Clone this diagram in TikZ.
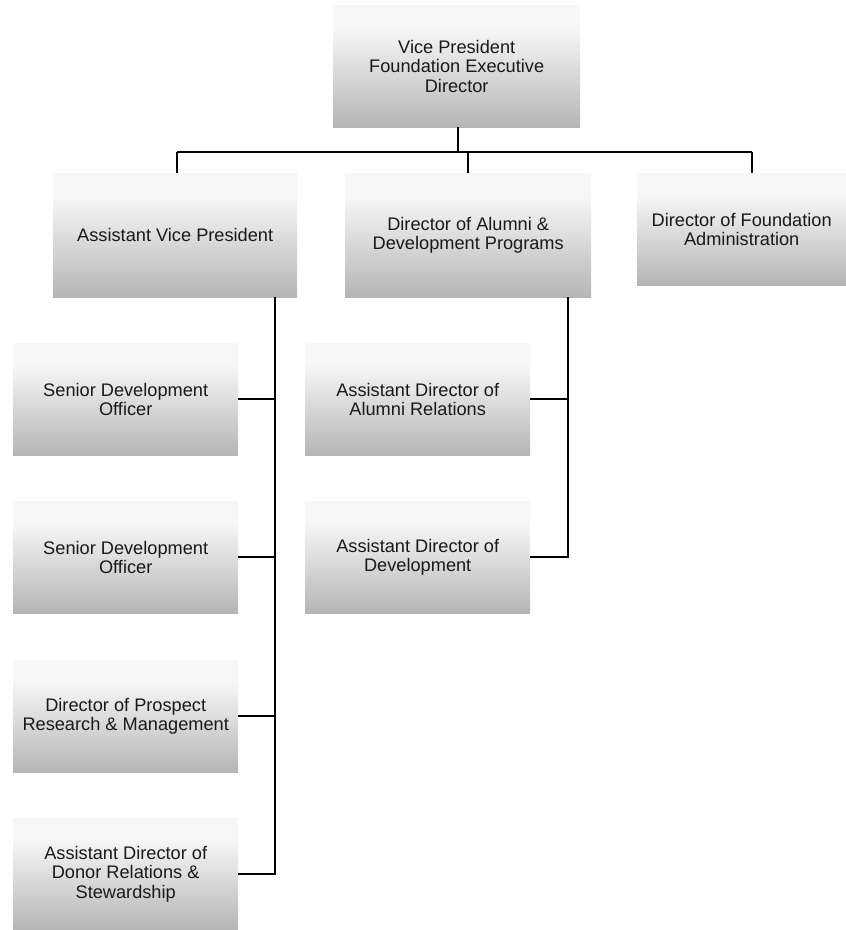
\documentclass[tikz,border=0pt]{standalone}
\usepackage{fontspec}
\setmainfont{Liberation Sans}
\pgfdeclareverticalshading{boxshade}{100bp}{color(0bp)=(black!29); color(25bp)=(black!29); color(66bp)=(black!3); color(100bp)=(black!3)}
\tikzset{
  orgbox/.style={rectangle, shading=boxshade, draw=none, anchor=north west, align=center,
    inner sep=0pt, text=black!90, font=\fontsize{18.2}{19.3}\selectfont},
  link/.style={draw=black, line width=1.5pt}
}
\begin{document}
\begin{tikzpicture}[x=1pt,y=-1pt]
\useasboundingbox (0,0) rectangle (846,930);
\node[orgbox, minimum width=247pt, minimum height=122pt] (vp) at (333,5) {Vice President\\Foundation Executive\\Director};
\node[orgbox, minimum width=244pt, minimum height=124pt] (avp) at (53,173) {Assistant Vice President};
\node[orgbox, minimum width=246pt, minimum height=124pt] (dad) at (345,173) {Director of Alumni \&\\Development Programs};
\node[orgbox, minimum width=209pt, minimum height=112pt] (dfa) at (637,173) {Director of Foundation\\Administration};
\node[orgbox, minimum width=225pt, minimum height=112pt] (s1) at (13,343) {Senior Development\\Officer};
\node[orgbox, minimum width=225pt, minimum height=112pt] (s2) at (13,501) {Senior Development\\Officer};
\node[orgbox, minimum width=225pt, minimum height=112pt] (dp) at (13,660) {Director of Prospect\\Research \& Management};
\node[orgbox, minimum width=225pt, minimum height=112pt] (ad) at (13,818) {Assistant Director of\\Donor Relations \&\\Stewardship};
\node[orgbox, minimum width=225pt, minimum height=112pt] (aar) at (305,343) {Assistant Director of\\Alumni Relations};
\node[orgbox, minimum width=225pt, minimum height=112pt] (adev) at (305,501) {Assistant Director of\\Development};
% top bus
\coordinate (busL) at (177,152);
\coordinate (busR) at (752,152);
\coordinate (busM) at (458,152);
\coordinate (busD) at (468,152);
\draw[link] (busL) -- (busR);
\draw[link] (vp.south -| busM) -- (busM);
\draw[link] (busL) -- (busL |- avp.north);
\draw[link] (busD) -- (busD |- dad.north);
\draw[link] (busR) -- (busR |- dfa.north);
% left spine
\coordinate (spL) at (275,0);
\draw[link] (avp.south -| spL) -- (ad.east -| spL) -- (ad.east);
\draw[link] (s1.east) -- (s1.east -| spL);
\draw[link] (s2.east) -- (s2.east -| spL);
\draw[link] (dp.east) -- (dp.east -| spL);
% middle spine
\coordinate (spM) at (568,0);
\draw[link] (dad.south -| spM) -- (adev.east -| spM) -- (adev.east);
\draw[link] (aar.east) -- (aar.east -| spM);
\end{tikzpicture}
\end{document}
